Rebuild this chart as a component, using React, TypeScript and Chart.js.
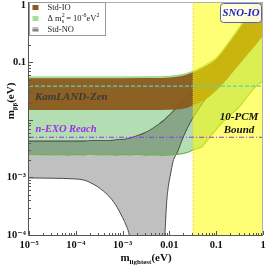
import React, { useEffect, useRef } from 'react';
import { Chart, registerables } from 'chart.js';

// Blend plugin registered before the Filler so the grey band multiplies over the green band
const blendPlugin = {
  id: 'blendMode',
  beforeDatasetDraw(chart: any, args: any) {
    const ds: any = chart.data.datasets[args.index];
    if (ds && ds.blend === 'multiply') chart.ctx.globalCompositeOperation = 'multiply';
  },
  afterDatasetDraw(chart: any) {
    chart.ctx.globalCompositeOperation = 'source-over';
  },
};
Chart.register(blendPlugin);
Chart.register(...registerables);

// ---------------- data ----------------
const X_MIN = 1e-5;
const X_MAX = 1;
const Y_MIN = 1e-4;
const Y_MAX = 1.12;

const xTickValues = [1e-5, 1e-4, 1e-3, 0.01, 0.1, 1];
const xTickLabels = ['10⁻⁵', '10⁻⁴', '10⁻³', '0.01', '0.1', '1'];
const yTickValues = [1e-4, 1e-3, 0.1, 1];
const yTickLabels = ['10⁻⁴', '10⁻³', '0.1', '1'];

// Std-IO band
const ioMass = [1e-5, 1e-3, 0.005, 0.01, 0.02, 0.03, 0.05, 0.07, 0.1, 0.15, 0.2, 0.3, 0.5, 0.7, 1];
const ioUpper = [0.053, 0.053, 0.0533, 0.0545, 0.059, 0.066, 0.08, 0.094, 0.115, 0.17, 0.235, 0.37, 0.7, 1.15, 1.7];
const ioLower = [0.0148, 0.0148, 0.0149, 0.015, 0.0156, 0.0175, 0.021, 0.025, 0.032, 0.045, 0.06, 0.088, 0.145, 0.2, 0.29];

// Δm²_s = 1e-6 eV² band
const sterileUpperMass = [1e-5, 1e-3, 0.005, 0.01, 0.02, 0.03, 0.05, 0.07, 0.1, 0.15, 0.2, 0.3, 0.5, 0.7, 1];
const sterileUpper = [0.0557, 0.0557, 0.056, 0.0572, 0.062, 0.069, 0.084, 0.099, 0.121, 0.178, 0.247, 0.39, 0.735, 1.2, 1.8];
const sterileLowerMass = [
  1e-5, 1.5e-5, 2e-5, 3e-5, 5e-5, 7e-5, 1e-4, 1.5e-4, 2e-4, 3e-4, 5e-4, 7e-4, 1e-3, 1.5e-3, 2e-3, 3e-3,
  5e-3, 7e-3, 0.01, 0.015, 0.02, 0.025, 0.03, 0.04, 0.05, 0.06, 0.07, 0.085, 0.1, 0.12, 0.15, 0.2,
  0.27, 0.35, 0.45, 0.53, 0.65, 0.8, 0.9, 1,
];
const sterileLower = [
  0.0025, 0.00248, 0.00252, 0.00245, 0.0025, 0.00243, 0.00252, 0.00247, 0.00255, 0.00246, 0.00251, 0.00244, 0.0025, 0.00247, 0.00253, 0.00244,
  0.00248, 0.00242, 0.00246, 0.00252, 0.00262, 0.00275, 0.00295, 0.00318, 0.0034, 0.0041, 0.0048, 0.0059, 0.0068, 0.0082, 0.0098, 0.0122,
  0.015, 0.019, 0.025, 0.0295, 0.036, 0.042, 0.0445, 0.046,
];

// Std-NO band
const noMass = [
  1e-5, 3e-5, 1e-4, 1.5e-4, 2e-4, 3e-4, 5e-4, 7e-4, 1e-3, 1.2e-3, 1.35e-3, 1.5e-3, 3e-3, 6e-3, 7.5e-3, 8e-3,
  8.7e-3, 9.5e-3, 0.0105, 0.012, 0.015, 0.0195, 0.03, 0.05, 0.1, 0.2, 0.5, 1,
];
const noUpper = [
  0.0043, 0.0043, 0.0043, 0.0043, 0.00435, 0.0044, 0.0044, 0.0045, 0.0046, 0.0047, 0.0048, 0.0049, 0.006, 0.0085, 0.0098, 0.0103,
  0.011, 0.0118, 0.0127, 0.0142, 0.0172, 0.0215, 0.031, 0.051, 0.1, 0.2, 0.5, 1.0,
];
const noLower = [
  0.00098, 0.00097, 0.00094, 0.0009, 0.00082, 0.00068, 0.00048, 0.00034, 0.0002, 0.000145, 0.00011, 0.00007, 1e-6, 1e-6, 0.00005, 0.0001,
  0.00035, 0.0007, 0.0011, 0.0019, 0.0028, 0.0049, 0.01, 0.019, 0.04, 0.08, 0.2, 0.4,
];

const kamlandLimit = 0.0387;
const nexoReach = 0.005;
const pcmBound = 0.032;

// ---------------- helpers ----------------
const pts = (xs: number[], ys: number[]) => xs.map((x, i) => ({ x, y: ys[i] }));
const SERIF = '"Liberation Serif", "DejaVu Serif", serif';

type Part = { t: string; font: string; dy?: number; noAdvance?: boolean };
function drawRich(ctx: CanvasRenderingContext2D, parts: Part[], x: number, y: number, align: 'left' | 'center' = 'left') {
  let w = 0;
  for (const p of parts) {
    ctx.font = p.font;
    if (!p.noAdvance) w += ctx.measureText(p.t).width;
  }
  let cx = align === 'center' ? x - w / 2 : x;
  for (const p of parts) {
    ctx.font = p.font;
    ctx.fillText(p.t, cx, y + (p.dy || 0));
    if (!p.noAdvance) cx += ctx.measureText(p.t).width;
  }
}

const overlayPlugin = {
  id: 'overlay',
  afterDraw(chart: any) {
    const { ctx, chartArea: ca, scales } = chart;
    const xs = scales.x;
    const ys = scales.y;
    ctx.save();

    // frame
    ctx.lineWidth = 1;
    ctx.strokeStyle = '#b0b0b0';
    ctx.beginPath();
    ctx.moveTo(ca.left, ca.top + 0.5);
    ctx.lineTo(ca.right - 0.5, ca.top + 0.5);
    ctx.lineTo(ca.right - 0.5, ca.bottom);
    ctx.stroke();
    ctx.strokeStyle = '#555';
    ctx.beginPath();
    ctx.moveTo(ca.left - 0.5, ca.top);
    ctx.lineTo(ca.left - 0.5, ca.bottom + 0.5);
    ctx.lineTo(ca.right, ca.bottom + 0.5);
    ctx.stroke();

    // inward ticks
    ctx.strokeStyle = '#555';
    ctx.beginPath();
    for (let d = -5; d <= 0; d++) {
      for (let k = 1; k <= 9; k++) {
        const v = k * Math.pow(10, d);
        if (v < X_MIN || v > X_MAX) continue;
        const px = Math.round(xs.getPixelForValue(v)) + 0.5;
        const len = k === 1 ? 4 : 2;
        ctx.moveTo(px, ca.bottom);
        ctx.lineTo(px, ca.bottom - len);
      }
    }
    for (let d = -4; d <= 0; d++) {
      for (let k = 1; k <= 9; k++) {
        const v = k * Math.pow(10, d);
        if (v < Y_MIN || v > Y_MAX) continue;
        const py = Math.round(ys.getPixelForValue(v)) + 0.5;
        const len = k === 1 ? 4 : 2;
        ctx.moveTo(ca.left, py);
        ctx.lineTo(ca.left + len, py);
      }
    }
    ctx.stroke();

    // axis titles
    ctx.fillStyle = '#111';
    ctx.textBaseline = 'alphabetic';
    drawRich(
      ctx,
      [
        { t: 'm', font: `bold 11px ${SERIF}` },
        { t: 'lightest', font: `bold 7px ${SERIF}`, dy: 2.5 },
        { t: '(eV)', font: `bold 11px ${SERIF}` },
      ],
      146,
      261,
      'center'
    );
    ctx.save();
    ctx.translate(14, 101);
    ctx.rotate(-Math.PI / 2);
    drawRich(
      ctx,
      [
        { t: 'm', font: `bold 11px ${SERIF}` },
        { t: 'ββ', font: `bold 7px ${SERIF}`, dy: 2.5 },
        { t: '(eV)', font: `bold 11px ${SERIF}` },
      ],
      0,
      0,
      'center'
    );
    ctx.restore();

    // annotations
    ctx.textBaseline = 'middle';
    ctx.textAlign = 'left';
    ctx.font = `italic bold 11px ${SERIF}`;
    ctx.fillStyle = '#3a3a3a';
    ctx.fillText('KamLAND-Zen', xs.getPixelForValue(1.34e-5), ys.getPixelForValue(0.0249));
    ctx.font = `italic bold 10.5px ${SERIF}`;
    ctx.fillStyle = '#9a2ee6';
    ctx.fillText('n-EXO Reach', xs.getPixelForValue(1.38e-5), ys.getPixelForValue(0.0069));
    ctx.font = `italic bold 11px ${SERIF}`;
    ctx.fillStyle = '#111';
    ctx.textAlign = 'center';
    ctx.fillText('10-PCM', xs.getPixelForValue(0.307), ys.getPixelForValue(0.0112));
    ctx.fillText('Bound', xs.getPixelForValue(0.307), ys.getPixelForValue(0.00665));

    // SNO-IO box
    const bx = ca.right - 42.5;
    const by = ca.top + 1.5;
    ctx.beginPath();
    (ctx as any).roundRect(bx, by, 41, 19, 3);
    ctx.fillStyle = 'rgba(255,255,235,0.9)';
    ctx.fill();
    ctx.strokeStyle = '#5a62a8';
    ctx.lineWidth = 1;
    ctx.stroke();
    ctx.fillStyle = '#1c1cc8';
    ctx.font = `italic bold 10.8px ${SERIF}`;
    ctx.fillText('SNO-IO', bx + 20.5, by + 10);

    // legend
    const lx = ca.left + 0.5;
    const ly = ca.top + 0.5;
    ctx.fillStyle = '#fff';
    ctx.fillRect(lx, ly, 76, 33);
    ctx.strokeStyle = '#999';
    ctx.strokeRect(lx, ly, 76, 33);
    const rows = [ly + 5, ly + 16, ly + 27];
    ctx.fillStyle = '#8b5a1e';
    ctx.fillRect(lx + 3, rows[0] - 2.5, 6, 5);
    ctx.fillStyle = '#a9dba1';
    ctx.fillRect(lx + 3, rows[1] - 2.5, 6, 5);
    ctx.fillStyle = '#bdbdbd';
    ctx.fillRect(lx + 3, rows[2] - 2.5, 6, 5);
    ctx.strokeStyle = '#555';
    ctx.beginPath();
    ctx.moveTo(lx + 3, rows[2] + 0.5);
    ctx.lineTo(lx + 9, rows[2] + 0.5);
    ctx.stroke();
    ctx.fillStyle = '#222';
    ctx.textAlign = 'left';
    ctx.textBaseline = 'middle';
    const f = `8.5px ${SERIF}`;
    const fs = `6px ${SERIF}`;
    ctx.font = f;
    ctx.fillText('Std-IO', lx + 18, rows[0]);
    drawRich(
      ctx,
      [
        { t: 'Δ m', font: f },
        { t: '2', font: fs, dy: -3, noAdvance: true },
        { t: 's', font: fs, dy: 2.5 },
        { t: ' = 10', font: f },
        { t: '-6', font: fs, dy: -3 },
        { t: 'eV', font: f },
        { t: '2', font: fs, dy: -3 },
      ],
      lx + 18,
      rows[1]
    );
    ctx.font = f;
    ctx.fillText('Std-NO', lx + 18, rows[2]);

    ctx.restore();
  },
};

export default function App() {
  const ref = useRef<HTMLCanvasElement | null>(null);
  useEffect(() => {
    if (!ref.current) return;
    const tickFont = { family: SERIF, size: 10.5, weight: 'bold' as const };
    const chart = new Chart(ref.current, {
      type: 'line',
      data: {
        datasets: [
          // 0 sterile lower (boundary)
          { data: pts(sterileLowerMass, sterileLower), borderWidth: 0, fill: false, order: 100 } as any,
          // 1 sterile upper (fill to 0)
          {
            data: pts(sterileUpperMass, sterileUpper),
            borderColor: '#8fd26f',
            borderWidth: 1,
            backgroundColor: '#b3ddb3',
            fill: '-1',
            cubicInterpolationMode: 'monotone',
            order: 99,
          } as any,
          // 2 NO lower
          { data: pts(noMass, noLower), borderColor: '#555', borderWidth: 1, fill: false, cubicInterpolationMode: 'monotone', order: 98 } as any,
          // 3 NO upper, grey band multiplied
          {
            data: pts(noMass, noUpper),
            borderColor: '#555',
            borderWidth: 0.8,
            backgroundColor: '#c0c0c0',
            fill: '-1',
            blend: 'multiply',
            cubicInterpolationMode: 'monotone',
            order: 97,
          } as any,
          // 4 IO lower
          { data: pts(ioMass, ioLower), borderWidth: 0, fill: false, cubicInterpolationMode: 'monotone', order: 96 } as any,
          // 5 IO upper
          {
            data: pts(ioMass, ioUpper),
            borderWidth: 0,
            backgroundColor: 'rgba(139,90,28,0.95)',
            fill: '-1',
            cubicInterpolationMode: 'monotone',
            order: 95,
          } as any,
          // 6 sterile wiggly edge on top
          { data: pts(sterileLowerMass, sterileLower), borderColor: '#6fb443', borderWidth: 1.1, fill: false, order: 94 } as any,
          // 7 10-PCM yellow region
          {
            data: [
              { x: pcmBound, y: Y_MAX },
              { x: X_MAX, y: Y_MAX },
            ],
            borderWidth: 0,
            backgroundColor: 'rgba(255,255,0,0.54)',
            fill: 'start',
            order: 93,
          } as any,
          // 8 yellow edge dotted
          {
            data: [
              { x: pcmBound, y: Y_MIN },
              { x: pcmBound, y: Y_MAX },
            ],
            borderColor: 'rgba(225,205,70,0.9)',
            borderWidth: 1,
            borderDash: [1, 1],
            fill: false,
            order: 92,
          } as any,
          // 9 KamLAND-Zen limit
          {
            data: [
              { x: X_MIN, y: kamlandLimit },
              { x: X_MAX, y: kamlandLimit },
            ],
            borderColor: '#4fd3c6',
            borderWidth: 1.2,
            borderDash: [4, 2],
            fill: false,
            order: 91,
          } as any,
          // 10 n-EXO reach
          {
            data: [
              { x: X_MIN, y: nexoReach },
              { x: X_MAX, y: nexoReach },
            ],
            borderColor: '#9b30ee',
            borderWidth: 1.2,
            borderDash: [5, 2, 1, 2],
            fill: false,
            order: 90,
          } as any,
        ],
      },
      options: {
        animation: false,
        responsive: false,
        maintainAspectRatio: false,
        layout: { padding: { top: 2, right: 3, left: 0, bottom: 0 } },
        elements: { point: { radius: 0, hoverRadius: 0 } },
        plugins: { legend: { display: false }, tooltip: { enabled: false } },
        scales: {
          x: {
            type: 'logarithmic',
            min: X_MIN,
            max: X_MAX,
            grid: { display: false, drawTicks: false },
            border: { display: false },
            afterBuildTicks: (s: any) => {
              s.ticks = xTickValues.map((v) => ({ value: v }));
            },
            afterFit: (s: any) => {
              s.height = 31;
              s.paddingLeft = 0;
              s.paddingRight = 0;
            },
            ticks: {
              autoSkip: false,
              maxRotation: 0,
              padding: 4,
              color: '#111',
              font: tickFont,
              callback: (_v: any, i: number) => xTickLabels[i],
            },
          },
          y: {
            type: 'logarithmic',
            min: Y_MIN,
            max: Y_MAX,
            grid: { display: false, drawTicks: false },
            border: { display: false },
            afterBuildTicks: (s: any) => {
              s.ticks = yTickValues.map((v) => ({ value: v }));
            },
            afterFit: (s: any) => {
              s.width = 29;
              s.paddingTop = 0;
              s.paddingBottom = 0;
            },
            ticks: {
              autoSkip: false,
              padding: 3,
              color: '#111',
              font: tickFont,
              callback: (_v: any, i: number) => yTickLabels[i],
            },
          },
        },
      } as any,
      plugins: [overlayPlugin],
    });
    return () => chart.destroy();
  }, []);
  return (
    <div style={{ position: 'fixed', left: 0, top: 0, width: 266, height: 266, background: '#fff' }}>
      <canvas ref={ref} width={266} height={266} style={{ display: 'block', width: 266, height: 266 }} />
    </div>
  );
}
